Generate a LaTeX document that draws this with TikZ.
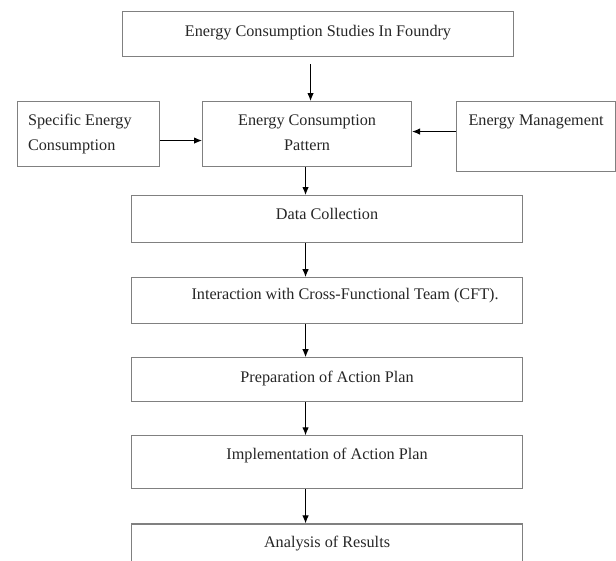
\documentclass[tikz,border=0pt]{standalone}
\usepackage{fontspec}
\setmainfont{Liberation Serif}
\usepackage{tikz}
\usetikzlibrary{positioning, arrows.meta}

\begin{document}
\begin{tikzpicture}[
    x=1pt, y=-1pt,
    boxnode/.style={rectangle, draw=black!50, line width=1.1pt, font=\fontsize{16.2}{25}\selectfont, text=black!85, inner ysep=0pt},
    flowbox/.style={boxnode, minimum width=391pt, inner xsep=0pt},
    flowarrow/.style={-{Latex[length=8pt, width=6.5pt]}, line width=1pt, black},
]
\useasboundingbox (0,0) rectangle (616,560);
\node[flowbox, anchor=north west, text height=25pt, text depth=20pt](studies) at (122,11) {Energy Consumption Studies In Foundry};
\node[boxnode, anchor=north west, minimum width=209pt, inner xsep=0pt, align=center, text height=49pt, text depth=16pt](pattern) at (202,101) {Energy Consumption\\Pattern};
\node[boxnode, anchor=north west, inner xsep=11pt, text width=120.5pt, align=flush left, text height=24pt, text depth=41pt](specific) at (16.5,101) {Specific Energy\\Consumption};
\node[boxnode, anchor=north west, minimum width=159pt, inner xsep=0pt, text height=24pt, text depth=46pt](management) at (456,101) {Energy Management};
\node[flowbox, anchor=north west, text height=23.5pt, text depth=23.5pt](data) at (131,195) {Data Collection};
\node[flowbox, text height=22pt, text depth=24pt](cft)[below = 34pt of data] {\hspace*{36pt}Interaction with Cross-Functional Team (CFT).};
\node[flowbox, text height=25pt, text depth=19pt](prep)[below = 33pt of cft] {Preparation of Action Plan};
\node[flowbox, text height=24pt, text depth=29pt](impl)[below = 33pt of prep] {Implementation of Action Plan};
\node[flowbox, text height=24pt, text depth=26pt](analysis)[below = 34pt of impl] {Analysis of Results};
\coordinate (studies_out) at ([xshift=-7.5pt, yshift=-7pt]studies.south);
\coordinate (management_in) at ([yshift=2.5pt]pattern.east);
\draw[flowarrow] (studies_out) -- (studies_out |- pattern.north);
\draw[flowarrow] ([yshift=-6.5pt]specific.east) -- ([yshift=-6.5pt]pattern.west);
\draw[flowarrow] (management.west |- management_in) -- (management_in);
\draw[flowarrow] ([xshift=-1.5pt]pattern.south) -- ([xshift=-1.5pt]pattern.south |- data.north);
\draw[flowarrow] ([xshift=-21.5pt]data.south) -- ([xshift=-21.5pt]cft.north);
\draw[flowarrow] ([xshift=-21.5pt]cft.south) -- ([xshift=-21.5pt]prep.north);
\draw[flowarrow] ([xshift=-21.5pt]prep.south) -- ([xshift=-21.5pt]impl.north);
\draw[flowarrow] ([xshift=-21.5pt]impl.south) -- ([xshift=-21.5pt]analysis.north);
\end{tikzpicture}
\end{document}
